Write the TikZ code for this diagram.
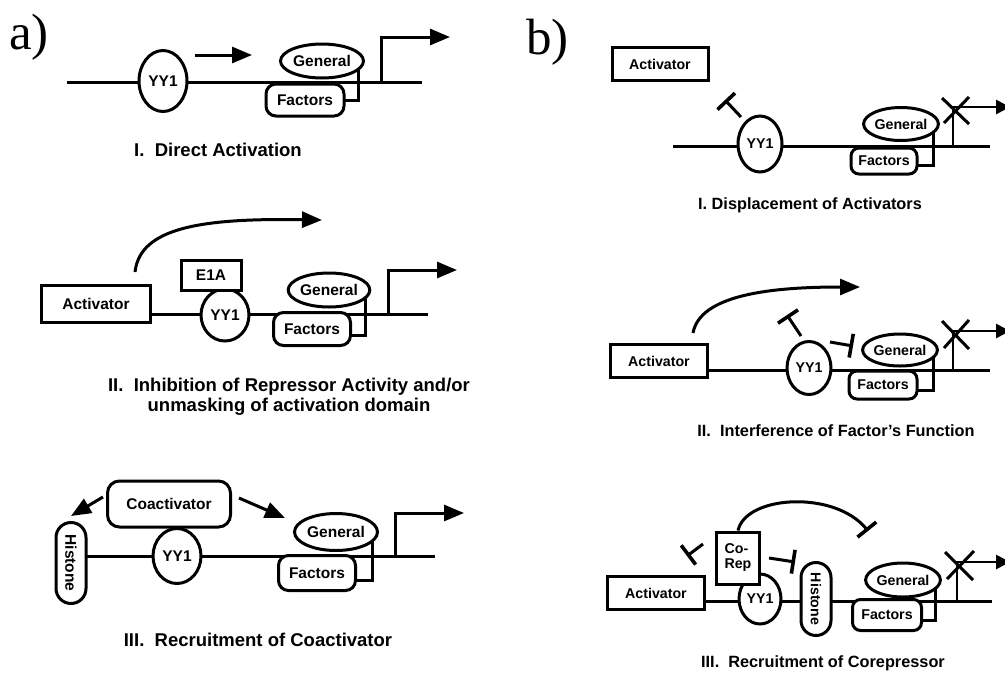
\documentclass[tikz,border=0pt]{standalone}
\usepackage{fontspec}
\setmainfont{Liberation Serif}
\setsansfont{Liberation Sans}
\usetikzlibrary{shapes.geometric, arrows.meta}

\newcommand\labA{\sffamily\bfseries\fontsize{15.5}{17}\selectfont}
\newcommand\labB{\sffamily\bfseries\fontsize{14.2}{15}\selectfont}
\newcommand\capA{\sffamily\bfseries\fontsize{18.5}{20}\selectfont}
\newcommand\capB{\sffamily\bfseries\fontsize{16.3}{19}\selectfont}

\begin{document}
\begin{tikzpicture}[x=1pt, y=-1pt]

\tikzset{dna/.style = {line width=3pt}}
\tikzset{prot/.style = {draw, line width=3pt, fill=white, inner sep=0pt}}
\tikzset{oval/.style = {prot, ellipse}}
\tikzset{box/.style = {prot, rectangle}}
\tikzset{rbox/.style = {prot, rectangle, rounded corners=10pt}}
\tikzset{act/.style = {-{Triangle[length=20pt,width=16pt]}, line width=3pt}}
\tikzset{actb/.style = {-{Triangle[length=14pt,width=14pt]}, line width=2.8pt}}
\tikzset{inh/.style = {-{Bar[width=24pt, line width=3.6pt]}, line width=3pt}}
\useasboundingbox (0,0) rectangle (1005,673);

%panel labels
\node[anchor=base west, inner sep=0pt, font=\fontsize{51}{53}\selectfont] (la) at (9,49) {a)};
\node[anchor=base west, inner sep=0pt, font=\fontsize{51}{53}\selectfont] (lb) at (526,54) {b)};

%%% a) I
\draw[dna] (67,82) -- (422,82);
\draw[dna] (340,100) -- (358,100) -- (358,66);
\node[oval, minimum width=48, minimum height=61, font=\labA] (yy1a) at (163,81) {YY1};
\node[oval, minimum width=83, minimum height=34, font=\labA] (gena) at (322,61) {General};
\node[rbox, minimum width=78, minimum height=32, font=\labA] (faca) at (305,100) {Factors};
\coordinate (sa1) at (195,55);
\coordinate (sa2) at (252,55);
\draw[act] (sa1) -- (sa2);
\coordinate (pa) at (381,82);
\coordinate (pea) at (450,37);
\draw[act] (pa) |- (pea);
\node[font=\capA] (capa1) at (218,150) {I.\ \ Direct Activation};

%%% a) II
\node[box, minimum width=109, minimum height=37, font=\labA] (acta2) at (96,304) {Activator};
\draw[dna] (acta2.east |- 0,314) -- (428,314);
\draw[dna] (345,335) -- (365,335) -- (365,294);
\node[oval, minimum width=48, minimum height=52, font=\labA] (yy1a2) at (225,315) {YY1};
\node[box, minimum width=60, minimum height=30, font=\labA] (e1a) at (211,275) {E1A};
\node[oval, minimum width=80, minimum height=34, font=\labA] (gena2) at (329,290) {General};
\node[rbox, minimum width=77, minimum height=33, font=\labA] (faca2) at (312,329) {Factors};
\coordinate (pa2) at (388,314);
\coordinate (pea2) at (457,270);
\draw[act] (pa2) |- (pea2);
\coordinate (ca1) at (135,272);
\coordinate (ca2) at (322,220);
\draw[act] (ca1) .. controls (140,228) and (200,218) .. (ca2);
\node[font=\capA, align=center] (capa2) at (289,397)
  {II.\ \ Inhibition of Repressor Activity and/or\\unmasking of activation domain};

%%% a) III
\draw[dna] (87,556) -- (435,556);
\draw[dna] (352,580) -- (372,580) -- (372,536);
\node[oval, minimum width=48, minimum height=55, font=\labA] (yy1a3) at (177,556) {YY1};
\node[rbox, rounded corners=12pt, minimum width=123, minimum height=46, font=\labA] (coa) at (169,504) {Coactivator};
\node[rbox, rounded corners=15pt, rotate=-90, minimum width=81, minimum height=30, font=\labA] (hisa) at (71,563) {Histone};
\node[oval, minimum width=83, minimum height=37, font=\labA] (gena3) at (336,532) {General};
\node[rbox, minimum width=77, minimum height=35, font=\labA] (faca3) at (317,573) {Factors};
\coordinate (pa3) at (395,556);
\coordinate (pea3) at (464,513);
\draw[act] (pa3) |- (pea3);
\coordinate (cl1) at (103,497);
\coordinate (cl2) at (71,516);
\draw[act] (cl1) -- (cl2);
\coordinate (cr1) at (239,498);
\coordinate (cr2) at (285,518);
\draw[act] (cr1) -- (cr2);
\node[font=\capA] (capa3) at (258,640) {III.\ \ Recruitment of Coactivator};

%%% b) I
\node[box, minimum width=96, minimum height=33, font=\labB] (actb1) at (660,64) {Activator};
\draw[dna] (673,146) -- (990,146);
\draw[dna] (914,165) -- (933,165) -- (933,128);
\node[oval, minimum width=44, minimum height=56, font=\labB] (yy1b) at (760,144) {YY1};
\node[oval, minimum width=73, minimum height=33, font=\labB] (genb) at (901,124) {General};
\node[rbox, rounded corners=8pt, minimum width=66, minimum height=26, font=\labB] (facb) at (884,161) {Factors};
\coordinate (tb1) at (741,117);
\coordinate (tb2) at (725,100);
\draw[inh] (tb1) -- (tb2);
\coordinate (pb) at (953,146);
\coordinate (peb) at (1010,107);
\draw[actb] (pb) |- (peb);
\draw[dna] (942,98) -- (969,124);
\draw[dna] (969,97) -- (944,123);
\node[font=\capB] (capb1) at (810,205) {I. Displacement of Activators};

%%% b) II
\node[box, minimum width=97, minimum height=33, font=\labB] (actb2) at (659,361) {Activator};
\draw[dna] (actb2.east |- 0,370) -- (990,370);
\draw[dna] (914,390) -- (933,390) -- (933,351);
\node[oval, minimum width=44, minimum height=53, font=\labB] (yy1b2) at (809,368) {YY1};
\node[oval, minimum width=72, minimum height=32, font=\labB] (genb2) at (900,350) {General};
\node[rbox, rounded corners=8pt, minimum width=68, minimum height=28, font=\labB] (facb2) at (883,385) {Factors};
\coordinate (tc1) at (801,336);
\coordinate (tc2) at (787,315);
\draw[inh] (tc1) -- (tc2);
\coordinate (td1) at (830,342);
\coordinate (td2) at (853,346);
\draw[inh] (td1) -- (td2);
\coordinate (cb1) at (693,333);
\coordinate (cb2) at (860,287);
\draw[act] (cb1) .. controls (700,295) and (770,287) .. (cb2);
\coordinate (pb2) at (953,370);
\coordinate (peb2) at (1010,331);
\draw[actb] (pb2) |- (peb2);
\draw[dna] (942,321) -- (969,349);
\draw[dna] (969,320) -- (944,348);
\node[font=\capB] (capb2) at (836,431) {II.\ \ Interference of Factor's Function};

%%% b) III
\node[box, minimum width=97, minimum height=33, font=\labB] (actb3) at (656,593) {Activator};
\draw[dna] (actb3.east |- 0,601) -- (992,601);
\draw[dna] (918,620) -- (935,620) -- (935,583);
\node[oval, minimum width=42, minimum height=50, font=\labB] (yy1b3) at (760,599) {YY1};
\node[box, minimum width=43, minimum height=52, font=\labB, align=left] (corep) at (738,558) {Co-\\Rep};
\node[rbox, rounded corners=15pt, rotate=-90, minimum width=73, minimum height=30, font=\labB] (hisb) at (816,599) {Histone};
\node[oval, minimum width=71, minimum height=34, font=\labB] (genb3) at (903,580) {General};
\node[rbox, rounded corners=8pt, minimum width=69, minimum height=31, font=\labB] (facb3) at (887,615) {Factors};
\coordinate (te1) at (703,544);
\coordinate (te2) at (687,556);
\draw[inh] (te1) -- (te2);
\coordinate (tf1) at (769,558);
\coordinate (tf2) at (795,562);
\draw[inh] (tf1) -- (tf2);
\coordinate (tg2) at (868,531);
\draw[inh] (corep.north) .. controls (746,495) and (835,490) .. (tg2);
\coordinate (pb3) at (957,601);
\coordinate (peb3) at (1010,562);
\draw[actb] (pb3) |- (peb3);
\draw[dna] (945,552) -- (973,580);
\draw[dna] (974,551) -- (947,579);
\node[font=\capB] (capb3) at (823,663) {III.\ \ Recruitment of Corepressor};

\end{tikzpicture}
\end{document}
